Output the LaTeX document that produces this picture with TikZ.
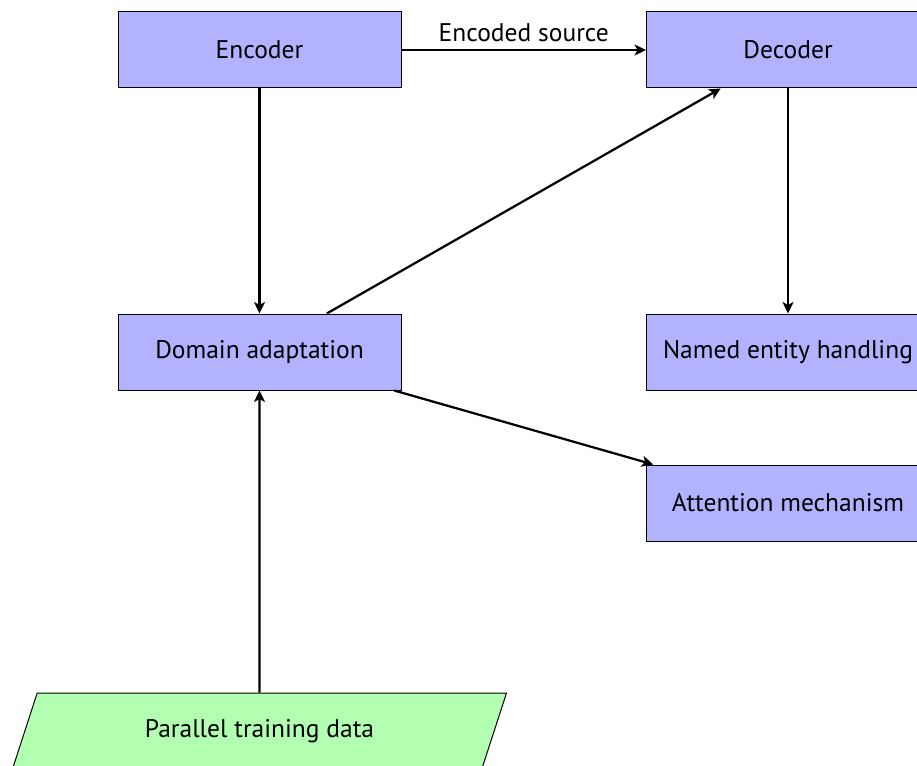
\documentclass[tikz,border=0pt]{standalone}
\usepackage{fontspec}
\setmainfont{PT Sans}
\usetikzlibrary{shapes.geometric,arrows.meta}
\begin{document}
\begin{tikzpicture}[x=0.4pt,y=-0.4pt,
  every node/.style={font=\fontsize{10.2}{12}\selectfont},
  block/.style={draw, fill=blue!30, line width=0.4pt,
    minimum width=113.2pt, minimum height=30.4pt, inner sep=0pt},
  datain/.style={trapezium, trapezium left angle=72, trapezium right angle=108,
    trapezium stretches body, draw, fill=green!30, line width=0.4pt,
    text height=7pt, text depth=2pt, inner ysep=10.7pt, inner xsep=4pt,
    minimum width=197.6pt},
  link/.style={-{Stealth[length=4.6pt,width=4.4pt,inset=1.2pt]}, line width=0.9pt}]
\useasboundingbox (0,0) rectangle (917,765);

% processing stages
\node[block] (enc)  at (259.5,50)  {Encoder};
\node[block] (dec)  at (788,50)    {Decoder};
\node[block] (dom)  at (259.5,352) {Domain adaptation};
\node[block] (ner)  at (788,352)   {Named entity handling};
\node[block] (att)  at (788,503)   {Attention mechanism};
% input data
\node[datain] (data) at (259.5,731) {Parallel training data};

% flow between stages
\draw[link] (enc) -- node[above, inner sep=3pt] {Encoded source} (dec);
\draw[link] (enc) -- (dom);
\draw[link] (dom) -- (dec);
\draw[link] (dec) -- (ner);
\draw[link] (dom) -- (att);
\draw[link] (data) -- (dom);
\end{tikzpicture}
\end{document}
